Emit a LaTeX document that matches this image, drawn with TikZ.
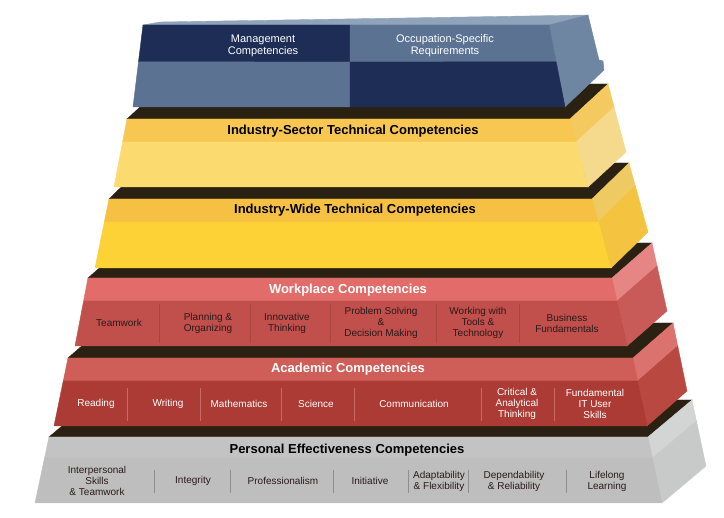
\documentclass[tikz,border=0pt]{standalone}
\usepackage{fontspec}
\setmainfont{Liberation Sans}
\usetikzlibrary{calc}

\definecolor{topdark}{HTML}{2B2112}
\definecolor{navy}{HTML}{1E2D56}
\definecolor{slate}{HTML}{5B7292}
\definecolor{slateside}{HTML}{6E86A1}
\definecolor{slatetop}{HTML}{8FA4BA}
\definecolor{sectorBand}{HTML}{F8C752}
\definecolor{sectorLow}{HTML}{FBDA70}
\definecolor{sectorSideUp}{HTML}{F3C960}
\definecolor{sectorSideLow}{HTML}{F5D98C}
\definecolor{wideBand}{HTML}{F6C142}
\definecolor{wideLow}{HTML}{FDD236}
\definecolor{wideSideUp}{HTML}{EFC962}
\definecolor{wideSideLow}{HTML}{F4C33F}
\definecolor{workplaceBand}{HTML}{E26C69}
\definecolor{workplaceLow}{HTML}{C14F4C}
\definecolor{workplaceSideUp}{HTML}{E68684}
\definecolor{workplaceSideLow}{HTML}{C85B58}
\definecolor{academicBand}{HTML}{CF5E58}
\definecolor{academicLow}{HTML}{AB3B34}
\definecolor{academicSideUp}{HTML}{DB726D}
\definecolor{academicSideLow}{HTML}{B94840}
\definecolor{personalBand}{HTML}{C3C3C3}
\definecolor{personalLow}{HTML}{BEBEBE}
\definecolor{personalSideUp}{HTML}{D3D5D5}
\definecolor{personalSideLow}{HTML}{C8CACA}
\definecolor{workdiv}{HTML}{A94442}
\definecolor{acaddiv}{HTML}{C96A64}
\definecolor{persdiv}{HTML}{8E8E8E}
\definecolor{darktext}{HTML}{2A1A1A}

\begin{document}
\begin{tikzpicture}[
	x = 1pt, y = -1pt,
	tierface/.style = {fill=#1, draw=#1, line width=.4pt},
	title/.style = {font=\fontsize{13}{15}\selectfont\bfseries, inner sep=0pt},
	head/.style = {font=\fontsize{11}{12}\selectfont, align=center,
		text=white, inner sep=0pt},
	cell/.style = {font=\fontsize{10}{11}\selectfont, align=center,
		inner sep=0pt},
	divider/.style = {draw=#1, line width=.8pt},
	]
	\useasboundingbox (0,0) rectangle (724,518);
	% tiers, from the bottom up
	\foreach \yt/\yb/\ym/\xtl/\xtr/\xbl/\xbr/\dx/\dy/\tier in {
		437/503/458/49/648/35/662/44/-37/personal,
		358/426/381/68/633/54/647/40/-35/academic,
		278/346/301/88/612/75/627/40/-35/workplace,
		199/268/222/109/592/95/611/37/-36/wide,
		119/187/142/127/570/114/588/38/-35/sector}
	{
		\pgfmathsetmacro\t{(\ym-\yt)/(\yb-\yt)}
		\coordinate (\tier-tl) at (\xtl,\yt);
		\coordinate (\tier-tr) at (\xtr,\yt);
		\coordinate (\tier-bl) at (\xbl,\yb);
		\coordinate (\tier-br) at (\xbr,\yb);
		\coordinate (\tier-ml) at ($(\tier-tl)!\t!(\tier-bl)$);
		\coordinate (\tier-mr) at ($(\tier-tr)!\t!(\tier-br)$);
		\path[tierface=topdark] (\tier-tl) -- (\tier-tr) -- ++(\dx,\dy)
			-- ($(\tier-tl)+(\dx,\dy)$) -- cycle;
		\path[tierface=\tier SideUp] (\tier-tr) -- ++(\dx,\dy)
			-- ($(\tier-mr)+(\dx,\dy)$) -- (\tier-mr) -- cycle;
		\path[tierface=\tier SideLow] (\tier-mr) -- ++(\dx,\dy)
			-- ($(\tier-br)+(\dx,\dy)$) -- (\tier-br) -- cycle;
		\path[tierface=\tier Band] (\tier-tl) -- (\tier-tr) -- (\tier-mr)
			-- (\tier-ml) -- cycle;
		\path[tierface=\tier Low] (\tier-ml) -- (\tier-mr) -- (\tier-br)
			-- (\tier-bl) -- cycle;
	}
	% top block
	\coordinate (mg-tl) at (143,25);
	\coordinate (mg-tr) at (549,25);
	\coordinate (mg-br) at (565,107);
	\coordinate (mg-bl) at (133,107);
	\coordinate (mg-ml) at ($(mg-tl)!.45!(mg-bl)$);
	\coordinate (mg-mr) at ($(mg-tr)!.45!(mg-br)$);
	\coordinate (mg-mt) at (350,25);
	\coordinate (mg-mb) at (350,107);
	\coordinate (mg-c) at (350,62);
	\path[tierface=slatetop] (mg-tl) -- (mg-tr) -- (588,15) -- (160,22) -- cycle;
	\path[tierface=slateside] (mg-tr) -- (588,15) -- (599,60) -- (603,61)
		-- (604,70) -- (mg-br) -- cycle;
	\path[tierface=navy] (mg-tl) -- (mg-mt) -- (mg-c) -- (mg-ml) -- cycle;
	\path[tierface=slate] (mg-mt) -- (mg-tr) -- (mg-mr) -- (mg-c) -- cycle;
	\path[tierface=slate] (mg-ml) -- (mg-c) -- (mg-mb) -- (mg-bl) -- cycle;
	\path[tierface=navy] (mg-c) -- (mg-mr) -- (mg-br) -- (mg-mb) -- cycle;
	\node[head] (mgmt) at (263,46) {Management\\Competencies};
	\node[head] (occ) at (445,46) {Occupation-Specific\\Requirements};
	% tier titles
	\node[title] (sector) at (353,131) {Industry-Sector Technical Competencies};
	\node[title] (wide) at (355,210) {Industry-Wide Technical Competencies};
	\node[title, text=white] (workplace) at (348,290) {Workplace Competencies};
	\node[title, text=white] (academic) at (348,369) {Academic Competencies};
	\node[title] (personal) at (347,450) {Personal Effectiveness Competencies};
	% workplace cells
	\foreach \x in {159,250,330,436,519}
		\draw[divider=workdiv] (\x,304) -- (\x,343);
	\foreach \x/\txt [count=\i] in {119/Teamwork,
		208/{Planning \&\\Organizing}, 287/{Innovative\\Thinking},
		381/{Problem Solving\\\&\\Decision Making},
		478/{Working with\\Tools \&\\Technology},
		567/{Business\\Fundamentals}}
		\node[cell, text=darktext] (work-\i) at (\x,323) {\txt};
	% academic cells
	\foreach \x in {127,200,281,354,481,554}
		\draw[divider=acaddiv] (\x,388) -- (\x,421);
	\foreach \x/\txt [count=\i] in {96/Reading, 168/Writing, 239/Mathematics,
		316/Science, 414/Communication,
		517/{Critical \&\\Analytical\\Thinking},
		595/{Fundamental\\IT User\\Skills}}
		\node[cell, text=white] (acad-\i) at (\x,404) {\txt};
	% personal cells
	\foreach \x in {154,230,333,408,468,566}
		\draw[divider=persdiv] (\x,470) -- (\x,493);
	\foreach \x/\txt [count=\i] in {97/{Interpersonal\\Skills\\\& Teamwork},
		193/Integrity, 283/Professionalism, 370/Initiative,
		439/{Adaptability\\\& Flexibility},
		514/{Dependability\\\& Reliability},
		607/{Lifelong\\Learning}}
		\node[cell, text=darktext] (pers-\i) at (\x,481) {\txt};
\end{tikzpicture}
\end{document}
